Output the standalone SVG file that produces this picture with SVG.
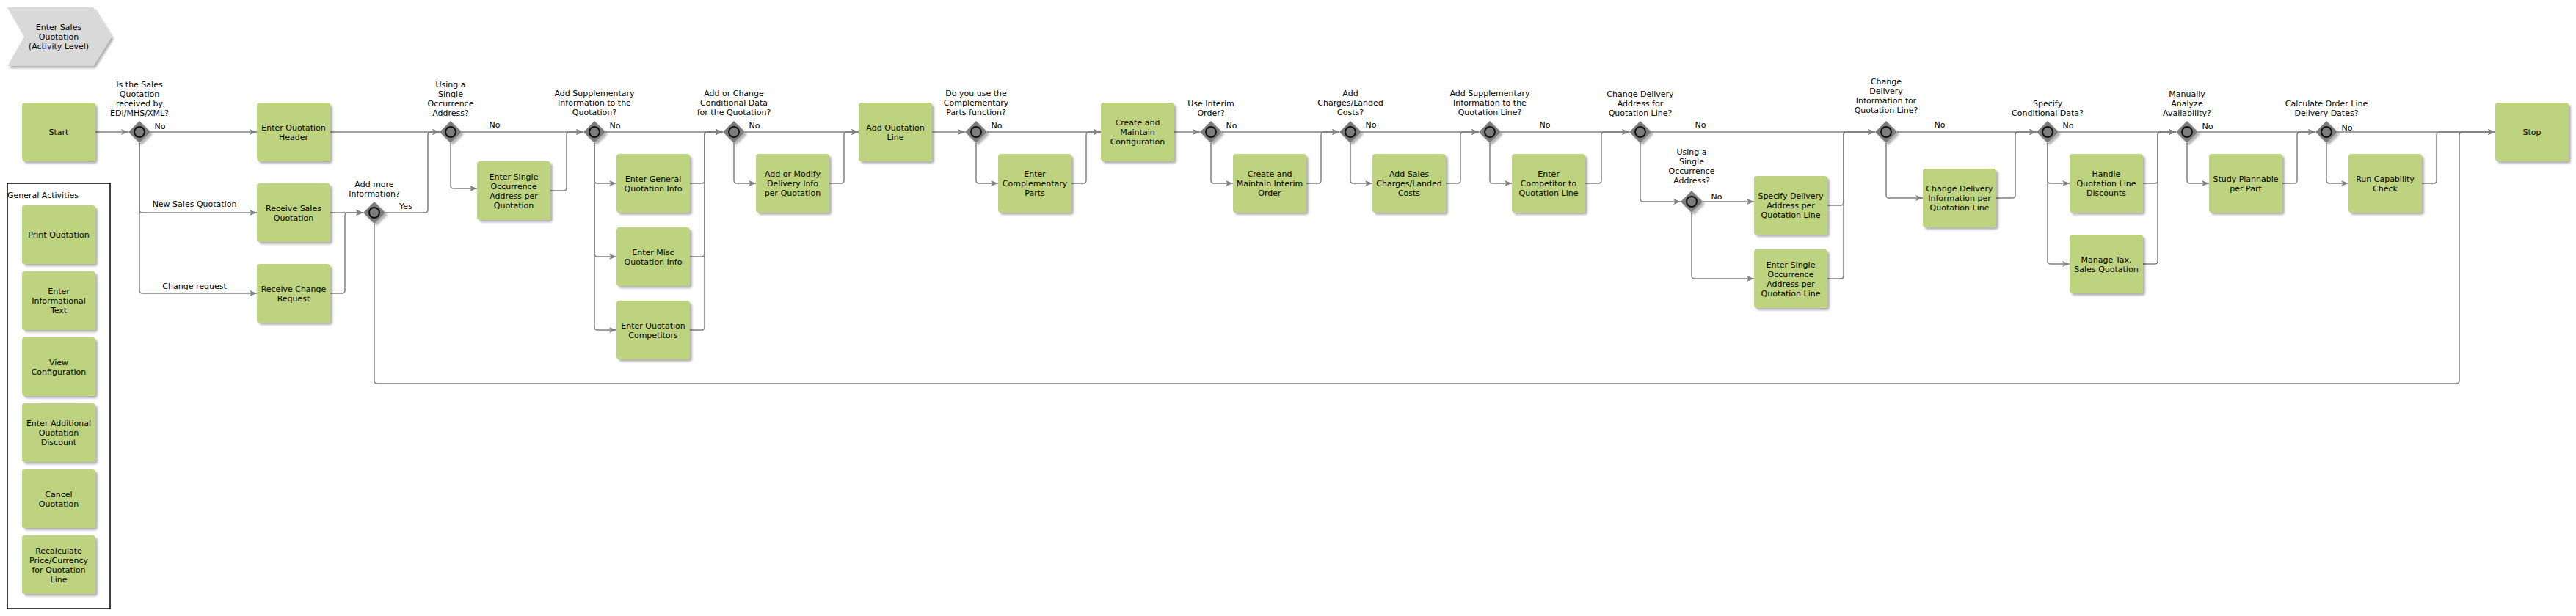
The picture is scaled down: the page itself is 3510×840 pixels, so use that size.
<svg xmlns="http://www.w3.org/2000/svg" width="3510" height="840" viewBox="0 0 3510 840">
<defs>
<style>
text{font-family:"DejaVu Sans",Verdana,sans-serif;font-size:11px;fill:#000;text-anchor:middle}
.n{fill:#bed37f;filter:url(#sh)}
.gw{fill:#7c7c7c;filter:url(#sh)}
.gc{fill:#7c7c7c;stroke:#111;stroke-width:2}
.c{fill:none;stroke:#808080;stroke-width:1.5;marker-end:url(#ar)}
.cn{fill:none;stroke:#808080;stroke-width:1.5}
.lft{text-anchor:start}
</style>
<filter id="sh" x="-20%" y="-20%" width="150%" height="150%">
<feDropShadow dx="3" dy="3" stdDeviation="1.5" flood-color="#000" flood-opacity="0.3"/>
</filter>
<marker id="ar" markerUnits="userSpaceOnUse" markerWidth="10" markerHeight="8" refX="10" refY="4" orient="auto">
<path d="M0,0 L10,4 L0,8 L2.5,4 Z" fill="#808080"/>
</marker>
</defs>
<rect width="3510" height="840" fill="#fff"/>

<g id="title">
<polygon points="10,10 127,10 152,50 127,90 10,90 33,50" fill="#d9d9da" filter="url(#sh)"/>
<text x="80" y="41">Enter Sales</text>
<text x="80" y="54">Quotation</text>
<text x="80" y="67">(Activity Level)</text>
</g>

<g id="general-activities">
<rect x="10" y="250" width="140" height="580" fill="none" stroke="#000" stroke-width="1.5"/>
<text class="lft" x="10" y="270">General Activities</text>
</g>

<g id="connectors">
<path class="c" d="M130,180 H175"/>
<path class="c" d="M205,180 H350"/>
<path class="c" d="M190,195 V286 Q190,290 194,290 H350"/>
<path class="c" d="M190,195 V396 Q190,400 194,400 H350"/>
<path class="c" d="M450,180 H599"/>
<path class="c" d="M450,290 H495"/>
<path class="c" d="M450,400 H466 Q470,400 470,396 V294 Q470,290 474,290 H495"/>
<path class="c" d="M525,290 H579 Q583,290 583,286 V184 Q583,180 587,180 H599"/>
<path class="c" d="M510,305 V519 Q510,523 514,523 H3347 Q3351,523 3351,519 V184 Q3351,180 3355,180 H3400"/>
<path class="c" d="M629,180 H795"/>
<path class="c" d="M614,195 V253 Q614,257 618,257 H650"/>
<path class="c" d="M750,260 H768 Q772,260 772,256 V184 Q772,180 776,180 H795"/>
<path class="c" d="M825,180 H985"/>
<path class="c" d="M810,195 V246 Q810,250 814,250 H840"/>
<path class="c" d="M810,195 V346 Q810,350 814,350 H840"/>
<path class="c" d="M810,195 V446 Q810,450 814,450 H840"/>
<path class="c" d="M940,250 H956 Q960,250 960,246 V184 Q960,180 964,180 H985"/>
<path class="c" d="M940,350 H956 Q960,350 960,346 V184 Q960,180 964,180 H985"/>
<path class="c" d="M940,450 H956 Q960,450 960,446 V184 Q960,180 964,180 H985"/>
<path class="c" d="M1015,180 H1170"/>
<path class="c" d="M1000,195 V246 Q1000,250 1004,250 H1030"/>
<path class="c" d="M1130,250 H1146 Q1150,250 1150,246 V184 Q1150,180 1154,180 H1170"/>
<path class="c" d="M1270,180 H1315"/>
<path class="c" d="M1345,180 H1500"/>
<path class="c" d="M1330,195 V246 Q1330,250 1334,250 H1360"/>
<path class="c" d="M1460,250 H1476 Q1480,250 1480,246 V184 Q1480,180 1484,180 H1500"/>
<path class="c" d="M1600,180 H1635"/>
<path class="c" d="M1665,180 H1825"/>
<path class="c" d="M1650,195 V246 Q1650,250 1654,250 H1680"/>
<path class="c" d="M1780,250 H1796 Q1800,250 1800,246 V184 Q1800,180 1804,180 H1825"/>
<path class="c" d="M1855,180 H2015"/>
<path class="c" d="M1840,195 V246 Q1840,250 1844,250 H1870"/>
<path class="c" d="M1970,250 H1986 Q1990,250 1990,246 V184 Q1990,180 1994,180 H2015"/>
<path class="c" d="M2045,180 H2220"/>
<path class="c" d="M2030,195 V246 Q2030,250 2034,250 H2060"/>
<path class="c" d="M2160,250 H2178 Q2182,250 2182,246 V184 Q2182,180 2186,180 H2220"/>
<path class="c" d="M2250,180 H2555"/>
<path class="c" d="M2235,195 V271 Q2235,275 2239,275 H2290"/>
<path class="c" d="M2320,275 H2390"/>
<path class="c" d="M2305,290 V376 Q2305,380 2309,380 H2390"/>
<path class="c" d="M2490,280 H2508 Q2512,280 2512,276 V184 Q2512,180 2516,180 H2555"/>
<path class="c" d="M2490,380 H2508 Q2512,380 2512,376 V184 Q2512,180 2516,180 H2555"/>
<path class="c" d="M2585,180 H2775"/>
<path class="c" d="M2570,195 V266 Q2570,270 2574,270 H2620"/>
<path class="c" d="M2720,270 H2742 Q2746,270 2746,266 V184 Q2746,180 2750,180 H2775"/>
<path class="c" d="M2805,180 H2965"/>
<path class="c" d="M2790,195 V246 Q2790,250 2794,250 H2820"/>
<path class="c" d="M2790,195 V356 Q2790,360 2794,360 H2820"/>
<path class="c" d="M2920,250 H2936 Q2940,250 2940,246 V184 Q2940,180 2944,180 H2965"/>
<path class="c" d="M2920,360 H2936 Q2940,360 2940,356 V184 Q2940,180 2944,180 H2965"/>
<path class="c" d="M2995,180 H3155"/>
<path class="c" d="M2980,195 V246 Q2980,250 2984,250 H3010"/>
<path class="c" d="M3110,250 H3126 Q3130,250 3130,246 V184 Q3130,180 3134,180 H3155"/>
<path class="c" d="M3185,180 H3400"/>
<path class="c" d="M3170,195 V246 Q3170,250 3174,250 H3200"/>
<path class="c" d="M3300,250 H3316 Q3320,250 3320,246 V184 Q3320,180 3324,180 H3400"/>
<text x="218" y="176">No</text>
<text x="265" y="282">New Sales Quotation</text>
<text x="265" y="394">Change request</text>
<text x="553" y="285">Yes</text>
<text x="674" y="174">No</text>
<text x="838" y="175">No</text>
<text x="1028" y="175">No</text>
<text x="1358" y="175">No</text>
<text x="1678" y="175">No</text>
<text x="1868" y="174">No</text>
<text x="2105" y="174">No</text>
<text x="2317" y="174">No</text>
<text x="2339" y="272">No</text>
<text x="2643" y="174">No</text>
<text x="2818" y="175">No</text>
<text x="3008" y="176">No</text>
<text x="3198" y="178">No</text>
</g>

<g id="start"><rect class="n" x="30" y="140" width="100" height="80" rx="4"/><text x="80" y="184">Start</text></g>
<g id="enter-quotation-header"><rect class="n" x="350" y="140" width="100" height="80" rx="4"/><text x="400" y="177.5">Enter Quotation</text><text x="400" y="190.5">Header</text></g>
<g id="receive-sales-quotation"><rect class="n" x="350" y="250" width="100" height="80" rx="4"/><text x="400" y="287.5">Receive Sales</text><text x="400" y="300.5">Quotation</text></g>
<g id="receive-change-request"><rect class="n" x="350" y="360" width="100" height="80" rx="4"/><text x="400" y="397.5">Receive Change</text><text x="400" y="410.5">Request</text></g>
<g id="enter-single-occurrence-address-quotation"><rect class="n" x="650" y="220" width="100" height="80" rx="4"/><text x="700" y="244.5">Enter Single</text><text x="700" y="257.5">Occurrence</text><text x="700" y="270.5">Address per</text><text x="700" y="283.5">Quotation</text></g>
<g id="enter-general-quotation-info"><rect class="n" x="840" y="210" width="100" height="80" rx="4"/><text x="890" y="247.5">Enter General</text><text x="890" y="260.5">Quotation Info</text></g>
<g id="enter-misc-quotation-info"><rect class="n" x="840" y="310" width="100" height="80" rx="4"/><text x="890" y="347.5">Enter Misc</text><text x="890" y="360.5">Quotation Info</text></g>
<g id="enter-quotation-competitors"><rect class="n" x="840" y="410" width="100" height="80" rx="4"/><text x="890" y="447.5">Enter Quotation</text><text x="890" y="460.5">Competitors</text></g>
<g id="add-modify-delivery-info"><rect class="n" x="1030" y="210" width="100" height="80" rx="4"/><text x="1080" y="241">Add or Modify</text><text x="1080" y="254">Delivery Info</text><text x="1080" y="267">per Quotation</text></g>
<g id="add-quotation-line"><rect class="n" x="1170" y="140" width="100" height="80" rx="4"/><text x="1220" y="177.5">Add Quotation</text><text x="1220" y="190.5">Line</text></g>
<g id="enter-complementary-parts"><rect class="n" x="1360" y="210" width="100" height="80" rx="4"/><text x="1410" y="241">Enter</text><text x="1410" y="254">Complementary</text><text x="1410" y="267">Parts</text></g>
<g id="create-maintain-configuration"><rect class="n" x="1500" y="140" width="100" height="80" rx="4"/><text x="1550" y="171">Create and</text><text x="1550" y="184">Maintain</text><text x="1550" y="197">Configuration</text></g>
<g id="create-maintain-interim-order"><rect class="n" x="1680" y="210" width="100" height="80" rx="4"/><text x="1730" y="241">Create and</text><text x="1730" y="254">Maintain Interim</text><text x="1730" y="267">Order</text></g>
<g id="add-sales-charges"><rect class="n" x="1870" y="210" width="100" height="80" rx="4"/><text x="1920" y="241">Add Sales</text><text x="1920" y="254">Charges/Landed</text><text x="1920" y="267">Costs</text></g>
<g id="enter-competitor-quotation-line"><rect class="n" x="2060" y="210" width="100" height="80" rx="4"/><text x="2110" y="241">Enter</text><text x="2110" y="254">Competitor to</text><text x="2110" y="267">Quotation Line</text></g>
<g id="specify-delivery-address"><rect class="n" x="2390" y="240" width="100" height="80" rx="4"/><text x="2440" y="271">Specify Delivery</text><text x="2440" y="284">Address per</text><text x="2440" y="297">Quotation Line</text></g>
<g id="enter-single-occurrence-address-line"><rect class="n" x="2390" y="340" width="100" height="80" rx="4"/><text x="2440" y="364.5">Enter Single</text><text x="2440" y="377.5">Occurrence</text><text x="2440" y="390.5">Address per</text><text x="2440" y="403.5">Quotation Line</text></g>
<g id="change-delivery-information"><rect class="n" x="2620" y="230" width="100" height="80" rx="4"/><text x="2670" y="261">Change Delivery</text><text x="2670" y="274">Information per</text><text x="2670" y="287">Quotation Line</text></g>
<g id="handle-quotation-line-discounts"><rect class="n" x="2820" y="210" width="100" height="80" rx="4"/><text x="2870" y="241">Handle</text><text x="2870" y="254">Quotation Line</text><text x="2870" y="267">Discounts</text></g>
<g id="manage-tax"><rect class="n" x="2820" y="320" width="100" height="80" rx="4"/><text x="2870" y="357.5">Manage Tax,</text><text x="2870" y="370.5">Sales Quotation</text></g>
<g id="study-plannable"><rect class="n" x="3010" y="210" width="100" height="80" rx="4"/><text x="3060" y="247.5">Study Plannable</text><text x="3060" y="260.5">per Part</text></g>
<g id="run-capability-check"><rect class="n" x="3200" y="210" width="100" height="80" rx="4"/><text x="3250" y="247.5">Run Capability</text><text x="3250" y="260.5">Check</text></g>
<g id="stop"><rect class="n" x="3400" y="140" width="100" height="80" rx="4"/><text x="3450" y="184">Stop</text></g>

<g id="print-quotation"><rect class="n" x="30" y="280" width="100" height="80" rx="4"/><text x="80" y="324">Print Quotation</text></g>
<g id="enter-informational-text"><rect class="n" x="30" y="370" width="100" height="80" rx="4"/><text x="80" y="401">Enter</text><text x="80" y="414">Informational</text><text x="80" y="427">Text</text></g>
<g id="view-configuration"><rect class="n" x="30" y="460" width="100" height="80" rx="4"/><text x="80" y="497.5">View</text><text x="80" y="510.5">Configuration</text></g>
<g id="enter-additional-discount"><rect class="n" x="30" y="550" width="100" height="80" rx="4"/><text x="80" y="581">Enter Additional</text><text x="80" y="594">Quotation</text><text x="80" y="607">Discount</text></g>
<g id="cancel-quotation"><rect class="n" x="30" y="640" width="100" height="80" rx="4"/><text x="80" y="677.5">Cancel</text><text x="80" y="690.5">Quotation</text></g>
<g id="recalculate-price"><rect class="n" x="30" y="730" width="100" height="80" rx="4"/><text x="80" y="754.5">Recalculate</text><text x="80" y="767.5">Price/Currency</text><text x="80" y="780.5">for Quotation</text><text x="80" y="793.5">Line</text></g>

<g id="gw-edi"><polygon class="gw" points="190,165 205,180 190,195 175,180"/><circle class="gc" cx="190" cy="180" r="7"/><text x="190" y="119">Is the Sales</text><text x="190" y="132">Quotation</text><text x="190" y="145">received by</text><text x="190" y="158">EDI/MHS/XML?</text></g>
<g id="gw-add-more"><polygon class="gw" points="510,275 525,290 510,305 495,290"/><circle class="gc" cx="510" cy="290" r="7"/><text x="510" y="255">Add more</text><text x="510" y="268">Information?</text></g>
<g id="gw-single-occ-1"><polygon class="gw" points="614,165 629,180 614,195 599,180"/><circle class="gc" cx="614" cy="180" r="7"/><text x="614" y="119">Using a</text><text x="614" y="132">Single</text><text x="614" y="145">Occurrence</text><text x="614" y="158">Address?</text></g>
<g id="gw-supp-quotation"><polygon class="gw" points="810,165 825,180 810,195 795,180"/><circle class="gc" cx="810" cy="180" r="7"/><text x="810" y="131">Add Supplementary</text><text x="810" y="144">Information to the</text><text x="810" y="157">Quotation?</text></g>
<g id="gw-conditional"><polygon class="gw" points="1000,165 1015,180 1000,195 985,180"/><circle class="gc" cx="1000" cy="180" r="7"/><text x="1000" y="131">Add or Change</text><text x="1000" y="144">Conditional Data</text><text x="1000" y="157">for the Quotation?</text></g>
<g id="gw-complementary"><polygon class="gw" points="1330,165 1345,180 1330,195 1315,180"/><circle class="gc" cx="1330" cy="180" r="7"/><text x="1330" y="131">Do you use the</text><text x="1330" y="144">Complementary</text><text x="1330" y="157">Parts function?</text></g>
<g id="gw-interim"><polygon class="gw" points="1650,165 1665,180 1650,195 1635,180"/><circle class="gc" cx="1650" cy="180" r="7"/><text x="1650" y="145">Use Interim</text><text x="1650" y="158">Order?</text></g>
<g id="gw-charges"><polygon class="gw" points="1840,165 1855,180 1840,195 1825,180"/><circle class="gc" cx="1840" cy="180" r="7"/><text x="1840" y="131">Add</text><text x="1840" y="144">Charges/Landed</text><text x="1840" y="157">Costs?</text></g>
<g id="gw-supp-line"><polygon class="gw" points="2030,165 2045,180 2030,195 2015,180"/><circle class="gc" cx="2030" cy="180" r="7"/><text x="2030" y="131">Add Supplementary</text><text x="2030" y="144">Information to the</text><text x="2030" y="157">Quotation Line?</text></g>
<g id="gw-delivery-address"><polygon class="gw" points="2235,165 2250,180 2235,195 2220,180"/><circle class="gc" cx="2235" cy="180" r="7"/><text x="2235" y="132">Change Delivery</text><text x="2235" y="145">Address for</text><text x="2235" y="158">Quotation Line?</text></g>
<g id="gw-single-occ-2"><polygon class="gw" points="2305,260 2320,275 2305,290 2290,275"/><circle class="gc" cx="2305" cy="275" r="7"/><text x="2305" y="211">Using a</text><text x="2305" y="224">Single</text><text x="2305" y="237">Occurrence</text><text x="2305" y="250">Address?</text></g>
<g id="gw-delivery-info"><polygon class="gw" points="2570,165 2585,180 2570,195 2555,180"/><circle class="gc" cx="2570" cy="180" r="7"/><text x="2570" y="115">Change</text><text x="2570" y="128">Delivery</text><text x="2570" y="141">Information for</text><text x="2570" y="154">Quotation Line?</text></g>
<g id="gw-specify-conditional"><polygon class="gw" points="2790,165 2805,180 2790,195 2775,180"/><circle class="gc" cx="2790" cy="180" r="7"/><text x="2790" y="145">Specify</text><text x="2790" y="158">Conditional Data?</text></g>
<g id="gw-availability"><polygon class="gw" points="2980,165 2995,180 2980,195 2965,180"/><circle class="gc" cx="2980" cy="180" r="7"/><text x="2980" y="132">Manually</text><text x="2980" y="145">Analyze</text><text x="2980" y="158">Availability?</text></g>
<g id="gw-delivery-dates"><polygon class="gw" points="3170,165 3185,180 3170,195 3155,180"/><circle class="gc" cx="3170" cy="180" r="7"/><text x="3170" y="145">Calculate Order Line</text><text x="3170" y="158">Delivery Dates?</text></g>
</svg>
